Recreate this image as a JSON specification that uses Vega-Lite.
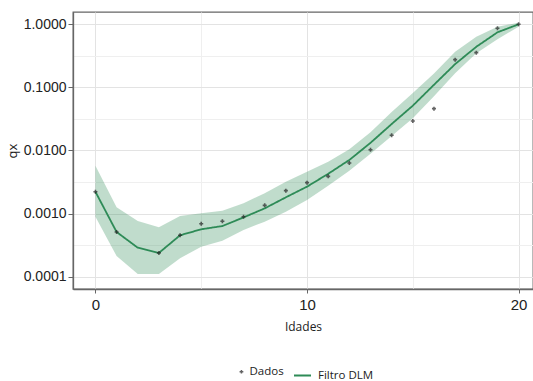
{
  "$schema": "https://vega.github.io/schema/vega-lite/v6.json",
  "width": 460,
  "height": 277,
  "autosize": {"type": "none"},
  "padding": {"left": 73, "top": 12, "right": 0, "bottom": 92},
  "background": "white",
  "config": {
    "view": {"stroke": "#666", "strokeWidth": 1.3},
    "font": "Liberation Sans"
  },
  "data": {
    "values": [
      {"x": 0, "qx": 0.00222, "filtro": 0.00222, "lo": 0.000893, "hi": 0.00574},
      {"x": 1, "qx": 0.000511, "filtro": 0.000511, "lo": 0.000213, "hi": 0.00126},
      {"x": 2, "qx": null, "filtro": 0.000288, "lo": 0.00011, "hi": 0.000764},
      {"x": 3, "qx": 0.000238, "filtro": 0.000238, "lo": 0.00011, "hi": 0.000607},
      {"x": 4, "qx": 0.000453, "filtro": 0.000453, "lo": 0.000196, "hi": 0.000916},
      {"x": 5, "qx": 0.000692, "filtro": 0.000564, "lo": 0.000299, "hi": 0.00101},
      {"x": 6, "qx": 0.000755, "filtro": 0.000635, "lo": 0.000372, "hi": 0.00111},
      {"x": 7, "qx": 0.000893, "filtro": 0.00087, "lo": 0.00055, "hi": 0.00146},
      {"x": 8, "qx": 0.00135, "filtro": 0.00121, "lo": 0.000745, "hi": 0.0021},
      {"x": 9, "qx": 0.00231, "filtro": 0.00181, "lo": 0.00107, "hi": 0.00321},
      {"x": 10, "qx": 0.00309, "filtro": 0.00267, "lo": 0.00164, "hi": 0.00461},
      {"x": 11, "qx": 0.00389, "filtro": 0.00427, "lo": 0.00275, "hi": 0.00661},
      {"x": 12, "qx": 0.00634, "filtro": 0.00708, "lo": 0.00479, "hi": 0.0105},
      {"x": 13, "qx": 0.0103, "filtro": 0.0132, "lo": 0.00891, "hi": 0.0195},
      {"x": 14, "qx": 0.0174, "filtro": 0.0263, "lo": 0.017, "hi": 0.0407},
      {"x": 15, "qx": 0.0294, "filtro": 0.0513, "lo": 0.0324, "hi": 0.0813},
      {"x": 16, "qx": 0.046, "filtro": 0.11, "lo": 0.0724, "hi": 0.166},
      {"x": 17, "qx": 0.275, "filtro": 0.234, "lo": 0.167, "hi": 0.368},
      {"x": 18, "qx": 0.355, "filtro": 0.44, "lo": 0.347, "hi": 0.637},
      {"x": 19, "qx": 0.865, "filtro": 0.746, "lo": 0.578, "hi": 0.916},
      {"x": 20, "qx": 1.0, "filtro": 1.0, "lo": 0.916, "hi": 1.06}
    ]
  },
  "layer": [
    {
      "mark": {"type": "area", "color": "#2E8B57", "opacity": 0.3},
      "encoding": {
        "x": {
          "field": "x",
          "type": "quantitative",
          "scale": {"domain": [-1.06, 20.68], "nice": false, "zero": false},
          "axis": {
            "values": [0, 5, 10, 15, 20],
            "title": "Idades",
            "labelExpr": "datum.value % 10 == 0 ? datum.label : ''",
            "tickOpacity": {"condition": {"test": "datum.value % 10 == 0", "value": 1}, "value": 0},
            "gridColor": {"condition": {"test": "datum.value % 10 == 0", "value": "#E3E3E3"}, "value": "#EFEFEF"},
            "grid": true,
            "domainColor": "#666",
            "domainWidth": 1.3,
            "tickColor": "#666",
            "tickSize": 4,
            "labelFontSize": 15,
            "labelColor": "#222",
            "labelPadding": 4,
            "titleFont": "Open Sans",
            "titleFontSize": 12,
            "titleFontWeight": "normal",
            "titleColor": "#222",
            "titlePadding": 9
          }
        },
        "y": {
          "field": "lo",
          "type": "quantitative",
          "scale": {"type": "log", "domain": [0.0000638, 1.566], "nice": false},
          "axis": {
            "values": [0.0001, 0.000316228, 0.001, 0.00316228, 0.01, 0.0316228, 0.1, 0.316228, 1],
            "title": "qx",
            "labelExpr": "abs(log(datum.value)/LN10 - round(log(datum.value)/LN10)) < 0.01 ? format(datum.value, '.4f') : ''",
            "tickOpacity": {"condition": {"test": "abs(log(datum.value)/LN10 - round(log(datum.value)/LN10)) < 0.01", "value": 1}, "value": 0},
            "gridColor": {"condition": {"test": "abs(log(datum.value)/LN10 - round(log(datum.value)/LN10)) < 0.01", "value": "#E3E3E3"}, "value": "#EFEFEF"},
            "grid": true,
            "domainColor": "#666",
            "domainWidth": 1.3,
            "tickColor": "#666",
            "tickSize": 5,
            "labelFontSize": 14,
            "labelColor": "#222",
            "labelPadding": 2,
            "titleFont": "Open Sans",
            "titleFontSize": 13,
            "titleFontWeight": "normal",
            "titleColor": "#222",
            "titlePadding": 4
          }
        },
        "y2": {"field": "hi"}
      }
    },
    {
      "mark": {"type": "line", "color": "#2E8B57", "strokeWidth": 1.8},
      "encoding": {
        "x": {"field": "x", "type": "quantitative"},
        "y": {"field": "filtro", "type": "quantitative"},
        "strokeDash": {
          "datum": "Filtro DLM",
          "type": "nominal",
          "scale": {"range": [[1, 0]]},
          "legend": {
            "orient": "none",
            "legendX": 220,
            "legendY": 354,
            "title": null,
            "padding": 0,
            "symbolType": "stroke",
            "symbolStrokeColor": "#2E8B57",
            "symbolStrokeWidth": 2,
            "symbolSize": 289,
            "labelFont": "Open Sans",
            "labelFontSize": 11.5,
            "labelColor": "#222",
            "labelOffset": 6
          }
        }
      }
    },
    {
      "transform": [{"filter": "datum.qx != null"}],
      "mark": {"type": "point", "shape": "cross", "filled": true, "color": "#222", "size": 16},
      "encoding": {
        "x": {"field": "x", "type": "quantitative"},
        "y": {"field": "qx", "type": "quantitative"},
        "shape": {
          "datum": "Dados",
          "type": "nominal",
          "scale": {"range": ["cross"]},
          "legend": {
            "orient": "none",
            "legendX": 162.7,
            "legendY": 354,
            "title": null,
            "padding": 0,
            "symbolFillColor": "#222",
            "symbolStrokeColor": "#222",
            "symbolSize": 14,
            "labelFont": "Open Sans",
            "labelFontSize": 11.5,
            "labelColor": "#222",
            "labelOffset": 2.3
          }
        }
      }
    }
  ]
}
